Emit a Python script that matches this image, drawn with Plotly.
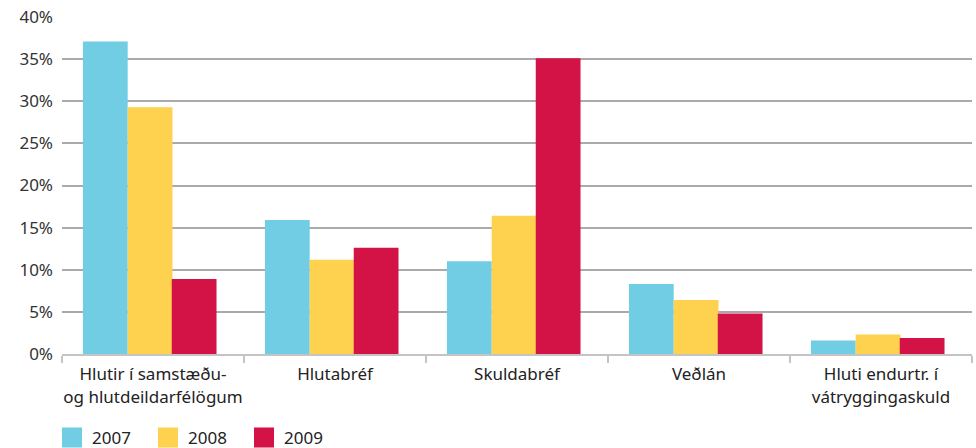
import plotly.graph_objects as go

categories = [
    "Hlutir í samstæðu-<br>og hlutdeildarfélögum",
    "Hlutabréf",
    "Skuldabréf",
    "Veðlán",
    "Hluti endurtr. í<br>vátryggingaskuld",
]
years = ["2007", "2008", "2009"]
values_2007 = [37.1, 15.9, 11.0, 8.3, 1.6]
values_2008 = [29.3, 11.2, 16.4, 6.4, 2.3]
values_2009 = [8.9, 12.6, 35.1, 4.8, 1.9]
colors = ["#71CDE3", "#FED14E", "#D31245"]
y_ticks = [0, 5, 10, 15, 20, 25, 30, 35, 40]

# bar width and per-series offset within each category slot
bar_width = 0.246
bar_offsets = [-0.385, -0.139, 0.103]

fig = go.Figure()
for year, vals, col, off in zip(years, [values_2007, values_2008, values_2009],
                                colors, bar_offsets):
    fig.add_trace(go.Bar(
        x=categories, y=vals, name=year, marker_color=col,
        marker_line_width=0, showlegend=False,
        width=bar_width, offset=off,
    ))
    # legend entry drawn as a large square marker
    fig.add_trace(go.Scatter(
        x=[None], y=[None], mode="markers", name=year,
        marker=dict(symbol="square", size=16, color=col,
                    line=dict(color=col, width=4)),
    ))

fig.update_layout(
    width=976, height=448,
    margin=dict(l=62, r=4, t=17, b=94, autoexpand=False),
    paper_bgcolor="white", plot_bgcolor="white",
    barmode="overlay",
    font=dict(family="Noto Sans", size=17, color="#222"),
    legend=dict(
        orientation="h", x=-0.011, xanchor="left",
        y=-0.196, yanchor="top",
        font=dict(size=17, color="#222"), itemwidth=30,
        entrywidth=51, entrywidthmode="pixels",
    ),
)
fig.update_xaxes(
    showgrid=False, showline=True, linecolor="#c4c4c4", linewidth=2,
    ticks="outside", tickson="boundaries", ticklen=7, tickwidth=2,
    tickcolor="#c4c4c4", tickfont=dict(size=17, color="#222"),
    ticklabelstandoff=4, tickangle=0,
)
fig.update_yaxes(
    range=[0, 40], tickvals=y_ticks, ticktext=[f"{v}%" for v in y_ticks],
    showgrid=True, gridcolor="#aaaaaa", gridwidth=1.5, zeroline=False,
    showline=False, ticks="", tickfont=dict(size=17, color="#333"),
    ticklabelstandoff=8,
)

fig.write_html("out.html")
